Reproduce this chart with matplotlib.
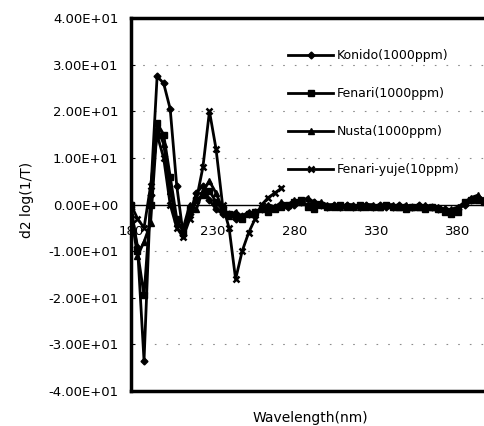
import numpy as np
import matplotlib
matplotlib.use("Agg")
import matplotlib.pyplot as plt

# wavelength grid (nm)
wl = [180, 184, 188, 192, 196, 200, 204, 208, 212, 216, 220, 224, 228, 232, 236,
      240, 244, 248, 252, 256, 260, 264, 268, 272, 276, 280, 284, 288, 292, 296,
      300, 304, 308, 312, 316, 320, 324, 328, 332, 336, 340, 344, 348, 352, 356,
      360, 364, 368, 372, 376, 380, 384, 388, 392, 396]

konido = [-1, -9, -33.5, 2, 27.5, 26, 20.5, 4, -6.5, -2, 2.5, 4, 1, -1, -2,
          -2, -3, -2.5, -2, -1.5, -1, -1, -0.5, 0, -0.5, 0, 0.5, 0, 0.5, 0,
          -0.5, 0, -0.5, 0, -0.5, -0.5, 0, -0.5, 0, -0.5, -0.5, 0, -0.5, -0.5, 0,
          -0.5, -0.5, -1, -1, -1.5, -1, 0, 1, 1.5, 1]

fenari = [0, -10, -19.5, 0, 17.5, 15, 6, -3, -6, -1, 1, 2, 3, 0.5, -1,
          -2, -2.5, -3, -2, -1.5, -1, -1.5, -1, -0.5, 0, 0.5, 1, -0.5, -1, 0,
          -0.5, -0.5, 0, -0.5, -0.5, 0, -0.5, -0.5, -0.5, 0, -0.5, -0.5, -1, -0.5, -0.5,
          -1, -0.5, -1, -1.5, -2, -1.5, 0.5, 1, 1, 0.5]

nusta = [-2, -11, -8, -4, 16.5, 13, 3, -4, -5, 0, -1, 3, 5, 2.5, -1,
         -2.5, -1.5, -2.5, -1.5, -2, -0.5, 0, -0.5, 0.5, 0, 1, 0.5, 1.5, 0.5, 0.5,
         0, 0, -0.5, 0, 0, -0.5, 0, 0, -0.5, 0, 0, -0.5, 0, -0.5, -0.5,
         0, -0.5, -0.5, -1, -1, -0.5, 0.5, 1.5, 2, 1]

yuje_wl = wl[:24]
yuje = [0, -3, -5, 4, 15, 10, 0, -5, -7, -3, 1, 8, 20, 12, 0,
        -5, -16, -10, -6, -3, 0, 1.5, 2.5, 3.5]

labels = ["Konido(1000ppm)", "Fenari(1000ppm)", "Nusta(1000ppm)", "Fenari-yuje(10ppm)"]
xticks = [180, 230, 280, 330, 380]
yticks = [-40, -30, -20, -10, 0, 10, 20, 30, 40]

fig = plt.figure(figsize=(4.85, 4.26), dpi=100)
ax = fig.add_axes([0.270, 0.082, 0.730, 0.8756])

lw = 2.0
ax.plot(wl, konido, color="k", lw=lw, marker="D", ms=3.5, label=labels[0])
ax.plot(wl, fenari, color="k", lw=lw, marker="s", ms=4, label=labels[1])
ax.plot(wl, nusta, color="k", lw=lw, marker="^", ms=4.5, label=labels[2])
ax.plot(yuje_wl, yuje, color="k", lw=lw, marker="x", ms=4, mew=1.8, label=labels[3])

ax.set_xlim(180, 396.5)
ax.set_ylim(-40, 40)

# category axis crosses at zero like the spreadsheet chart
ax.spines["bottom"].set_position(("data", 0))
ax.spines["bottom"].set_linewidth(1.0)
ax.spines["right"].set_visible(False)
ax.spines["left"].set_linewidth(2.5)
ax.spines["top"].set_linewidth(2.5)
ax.axhline(-40, color="k", lw=2.5, clip_on=False)

ax.set_xticks(xticks)
ax.set_yticks(yticks)
ax.yaxis.set_major_formatter(matplotlib.ticker.FormatStrFormatter("%.2E"))
ax.tick_params(axis="x", length=0, pad=15, labelsize=9.5)
ax.tick_params(axis="y", length=3, direction="in", pad=9, labelsize=9.5)

for yv in yticks[1:-1]:
    if yv != 0:
        ax.axhline(yv, color="0.55", lw=0.8, ls=(0, (1.5, 9)), zorder=0)

ax.set_xlabel("Wavelength(nm)", fontsize=10)
ax.xaxis.set_label_coords(0.506, -0.054)
ax.set_ylabel("d2 log(1/T)", fontsize=10)
ax.yaxis.set_label_coords(-0.275, 0.512)

ax.legend(loc="upper left", bbox_to_anchor=(0.43, 0.93), frameon=False, fontsize=9,
          handlelength=3.6, handletextpad=0.3, labelspacing=2.0, numpoints=1,
          borderaxespad=0)

fig.savefig("out.png", dpi=100)
